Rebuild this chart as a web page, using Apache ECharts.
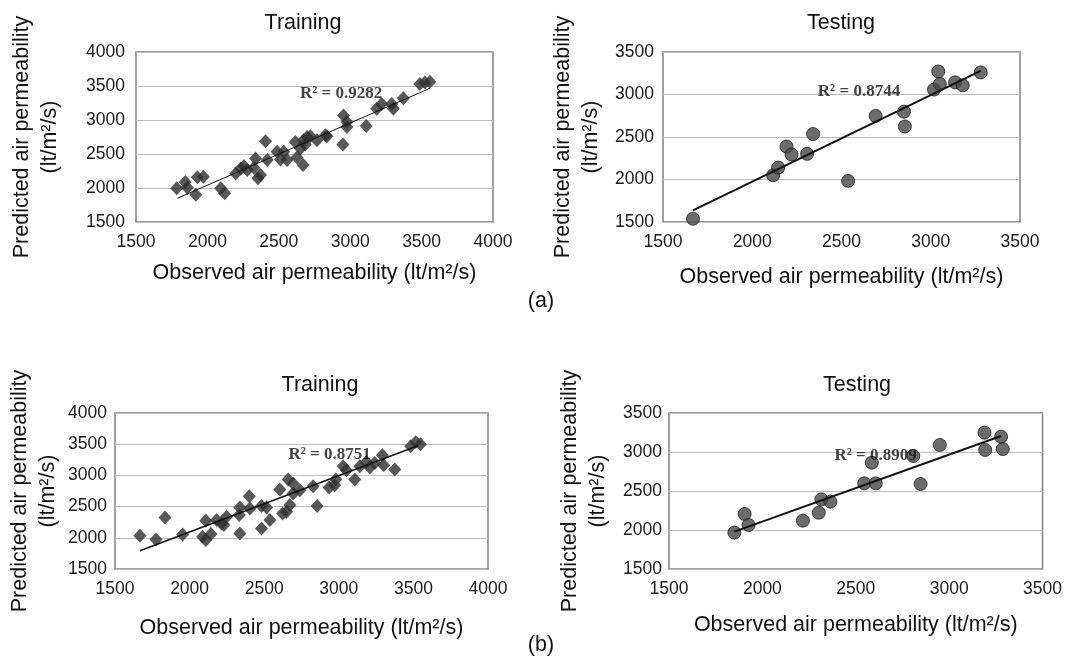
<!DOCTYPE html>
<html>
<head>
<meta charset="utf-8">
<script src="https://cdn.jsdelivr.net/npm/echarts@6/dist/echarts.min.js"></script>
<style>
  html, body { margin: 0; padding: 0; background: #fff; }
  #chart { width: 1065px; height: 658px; }
</style>
</head>
<body>
<div id="chart"></div>
<script>
// values: [observed, predicted]
const trainA = [
  [1785, 1995], [1845, 2090], [1860, 2005], [1919, 1900], [1930, 2157], [1972, 2167],
  [2093, 1996], [2121, 1923], [2198, 2215], [2233, 2288], [2256, 2322], [2279, 2264],
  [2326, 2298], [2337, 2434], [2354, 2142], [2372, 2191], [2407, 2687], [2419, 2410],
  [2488, 2532], [2512, 2420], [2535, 2532], [2558, 2410], [2616, 2678], [2628, 2449],
  [2651, 2580], [2670, 2337], [2674, 2702], [2685, 2640], [2698, 2751], [2721, 2760],
  [2767, 2702], [2826, 2775], [2837, 2760], [2949, 2639], [2953, 3067], [2977, 2970],
  [2977, 2897], [3112, 2911], [3186, 3164], [3221, 3237], [3291, 3237], [3302, 3164],
  [3372, 3320], [3488, 3529], [3523, 3553], [3558, 3563]
];
const testA = [
  [1668, 1539], [2117, 2050], [2145, 2140], [2192, 2388], [2220, 2295], [2307, 2302],
  [2341, 2535], [2537, 1984], [2691, 2748], [2850, 2798], [2855, 2624], [3018, 3058],
  [3042, 3271], [3051, 3124], [3136, 3143], [3179, 3109], [3280, 3260]
];
const trainB = [
  [1667, 2033], [1775, 1974], [1835, 2326], [1953, 2054], [2087, 2017], [2109, 1964],
  [2109, 2273], [2143, 2060], [2181, 2284], [2214, 2230], [2230, 2204], [2248, 2337],
  [2333, 2364], [2337, 2070], [2337, 2486], [2400, 2667], [2404, 2470], [2482, 2508],
  [2482, 2150], [2516, 2486], [2538, 2284], [2605, 2774], [2623, 2390], [2650, 2417],
  [2661, 2934], [2672, 2524], [2694, 2710], [2694, 2870], [2739, 2763], [2828, 2827],
  [2855, 2508], [2935, 2806], [2973, 2843], [2980, 2934], [3029, 3147], [3051, 3083],
  [3107, 2934], [3141, 3147], [3185, 3216], [3208, 3126], [3241, 3200], [3292, 3323],
  [3301, 3163], [3375, 3094], [3482, 3467], [3516, 3536], [3547, 3499]
];
const testB = [
  [1850, 1966], [1905, 2205], [1926, 2064], [2217, 2120], [2302, 2222], [2316, 2393],
  [2364, 2363], [2545, 2598], [2586, 2863], [2607, 2598], [2808, 2949], [2847, 2590],
  [2950, 3090], [3189, 3248], [3193, 3026], [3278, 3197], [3287, 3038]
];

// trend line end points
const trendTrainA = [[1791, 1850], [3558, 3466]];
const trendTestA = [[1668, 1636], [3280, 3279]];
const trendTrainB = [[1667, 1793], [3530, 3475]];
const trendTestB = [[1850, 1979], [3278, 3205]];

const r2Labels = ['R² = 0.9282', 'R² = 0.8744', 'R² = 0.8751', 'R² = 0.8909'];
const panelTitles = ['Training', 'Testing', 'Training', 'Testing'];

const sans = 'Liberation Sans, Arial, sans-serif';
const serif = 'Liberation Serif, Times New Roman, serif';
const xName = 'Observed air permeability (lt/m²/s)';
const yName = 'Predicted air permeability\n(lt/m²/s)';

const chart = echarts.init(document.getElementById('chart'));

const grids = [
  { left: 136, top: 52, width: 357, height: 170 },
  { left: 663, top: 52, width: 357, height: 170 },
  { left: 115, top: 413, width: 373, height: 156 },
  { left: 669, top: 413, width: 376, height: 156 },
]

const plain = (v) => String(v)

const xAxisOf = (i, max, gap) => ({
  gridIndex: i,
  type: 'value',
  min: 1500,
  max: max,
  interval: 500,
  name: xName,
  nameLocation: 'middle',
  nameGap: gap,
  nameTextStyle: { fontFamily: sans, fontSize: 21.5, color: '#111' },
  axisLine: { show: false },
  axisTick: { show: false },
  splitLine: { show: false },
  axisLabel: { fontFamily: sans, fontSize: 17.5, color: '#1a1a1a', margin: 11, formatter: plain },
})

const yAxisOf = (i, max, gap, margin) => ({
  gridIndex: i,
  type: 'value',
  min: 1500,
  max: max,
  interval: 500,
  name: yName,
  nameLocation: 'middle',
  nameRotate: 90,
  nameGap: gap,
  nameTextStyle: { fontFamily: sans, fontSize: 21.5, color: '#111', lineHeight: 28 },
  axisLine: { show: false },
  axisTick: { show: false },
  splitLine: { show: true, lineStyle: { color: '#bdbdbd', width: 1.2 } },
  axisLabel: { fontFamily: sans, fontSize: 17.5, color: '#1a1a1a', margin: margin, formatter: plain },
})

const diamonds = (i, data) => ({
  type: 'scatter',
  xAxisIndex: i,
  yAxisIndex: i,
  data: data,
  symbol: 'diamond',
  symbolSize: [13, 14],
  itemStyle: { color: '#2e2e2e' },
  z: 3,
})

const circles = (i, data) => ({
  type: 'scatter',
  xAxisIndex: i,
  yAxisIndex: i,
  data: data,
  symbol: 'circle',
  symbolSize: 13,
  itemStyle: { color: '#474747', borderColor: '#1f1f1f', borderWidth: 1 },
  z: 3,
})

const trend = (i, data, width) => ({
  type: 'line',
  xAxisIndex: i,
  yAxisIndex: i,
  data: data,
  symbol: 'none',
  lineStyle: { color: '#111', width: width },
  z: 4,
})

const r2 = (i, pos, text) => ({
  type: 'scatter',
  xAxisIndex: i,
  yAxisIndex: i,
  data: [pos],
  symbolSize: 1,
  itemStyle: { color: 'rgba(0,0,0,0)' },
  label: {
    show: true,
    position: 'inside',
    formatter: text,
    fontFamily: serif,
    fontWeight: 'bold',
    fontSize: 17,
    color: '#111',
  },
  z: 5,
})

const titleText = (text, x, y) => ({
  type: 'text',
  x: x,
  y: y,
  style: {
    text: text,
    fontFamily: sans,
    fontSize: 21.5,
    fill: '#111',
    textAlign: 'center',
    textVerticalAlign: 'middle',
  },
})

const option = {
  animation: false,
  backgroundColor: '#fff',
  grid: grids.map((g) => ({
    ...g,
    show: true,
    borderColor: '#808080',
    borderWidth: 1.5,
    backgroundColor: 'transparent',
  })),
  xAxis: [
    xAxisOf(0, 4000, 40),
    xAxisOf(1, 3500, 44),
    xAxisOf(2, 4000, 48),
    xAxisOf(3, 3500, 45),
  ],
  yAxis: [
    yAxisOf(0, 4000, 72, 11),
    yAxisOf(1, 3500, 58, 9),
    yAxisOf(2, 4000, 53, 8),
    yAxisOf(3, 3500, 57, 7),
  ],
  series: [
    diamonds(0, trainA),
    trend(0, trendTrainA, 1),
    r2(0, [2936, 3391], r2Labels[0]),
    circles(1, testA),
    trend(1, trendTestA, 2),
    r2(1, [2598, 3039], r2Labels[1]),
    diamonds(2, trainB),
    trend(2, trendTrainB, 1.5),
    r2(2, [2938, 3339], r2Labels[2]),
    circles(3, testB),
    trend(3, trendTestB, 2),
    r2(3, [2606, 2959], r2Labels[3]),
  ],
  graphic: [
    titleText(panelTitles[0], 303, 23),
    titleText(panelTitles[1], 841, 23),
    titleText(panelTitles[2], 320, 385),
    titleText(panelTitles[3], 857, 385),
    titleText('(a)', 541, 301),
    titleText('(b)', 541, 645),
  ],
}

chart.setOption(option)
</script>
</body>
</html>
